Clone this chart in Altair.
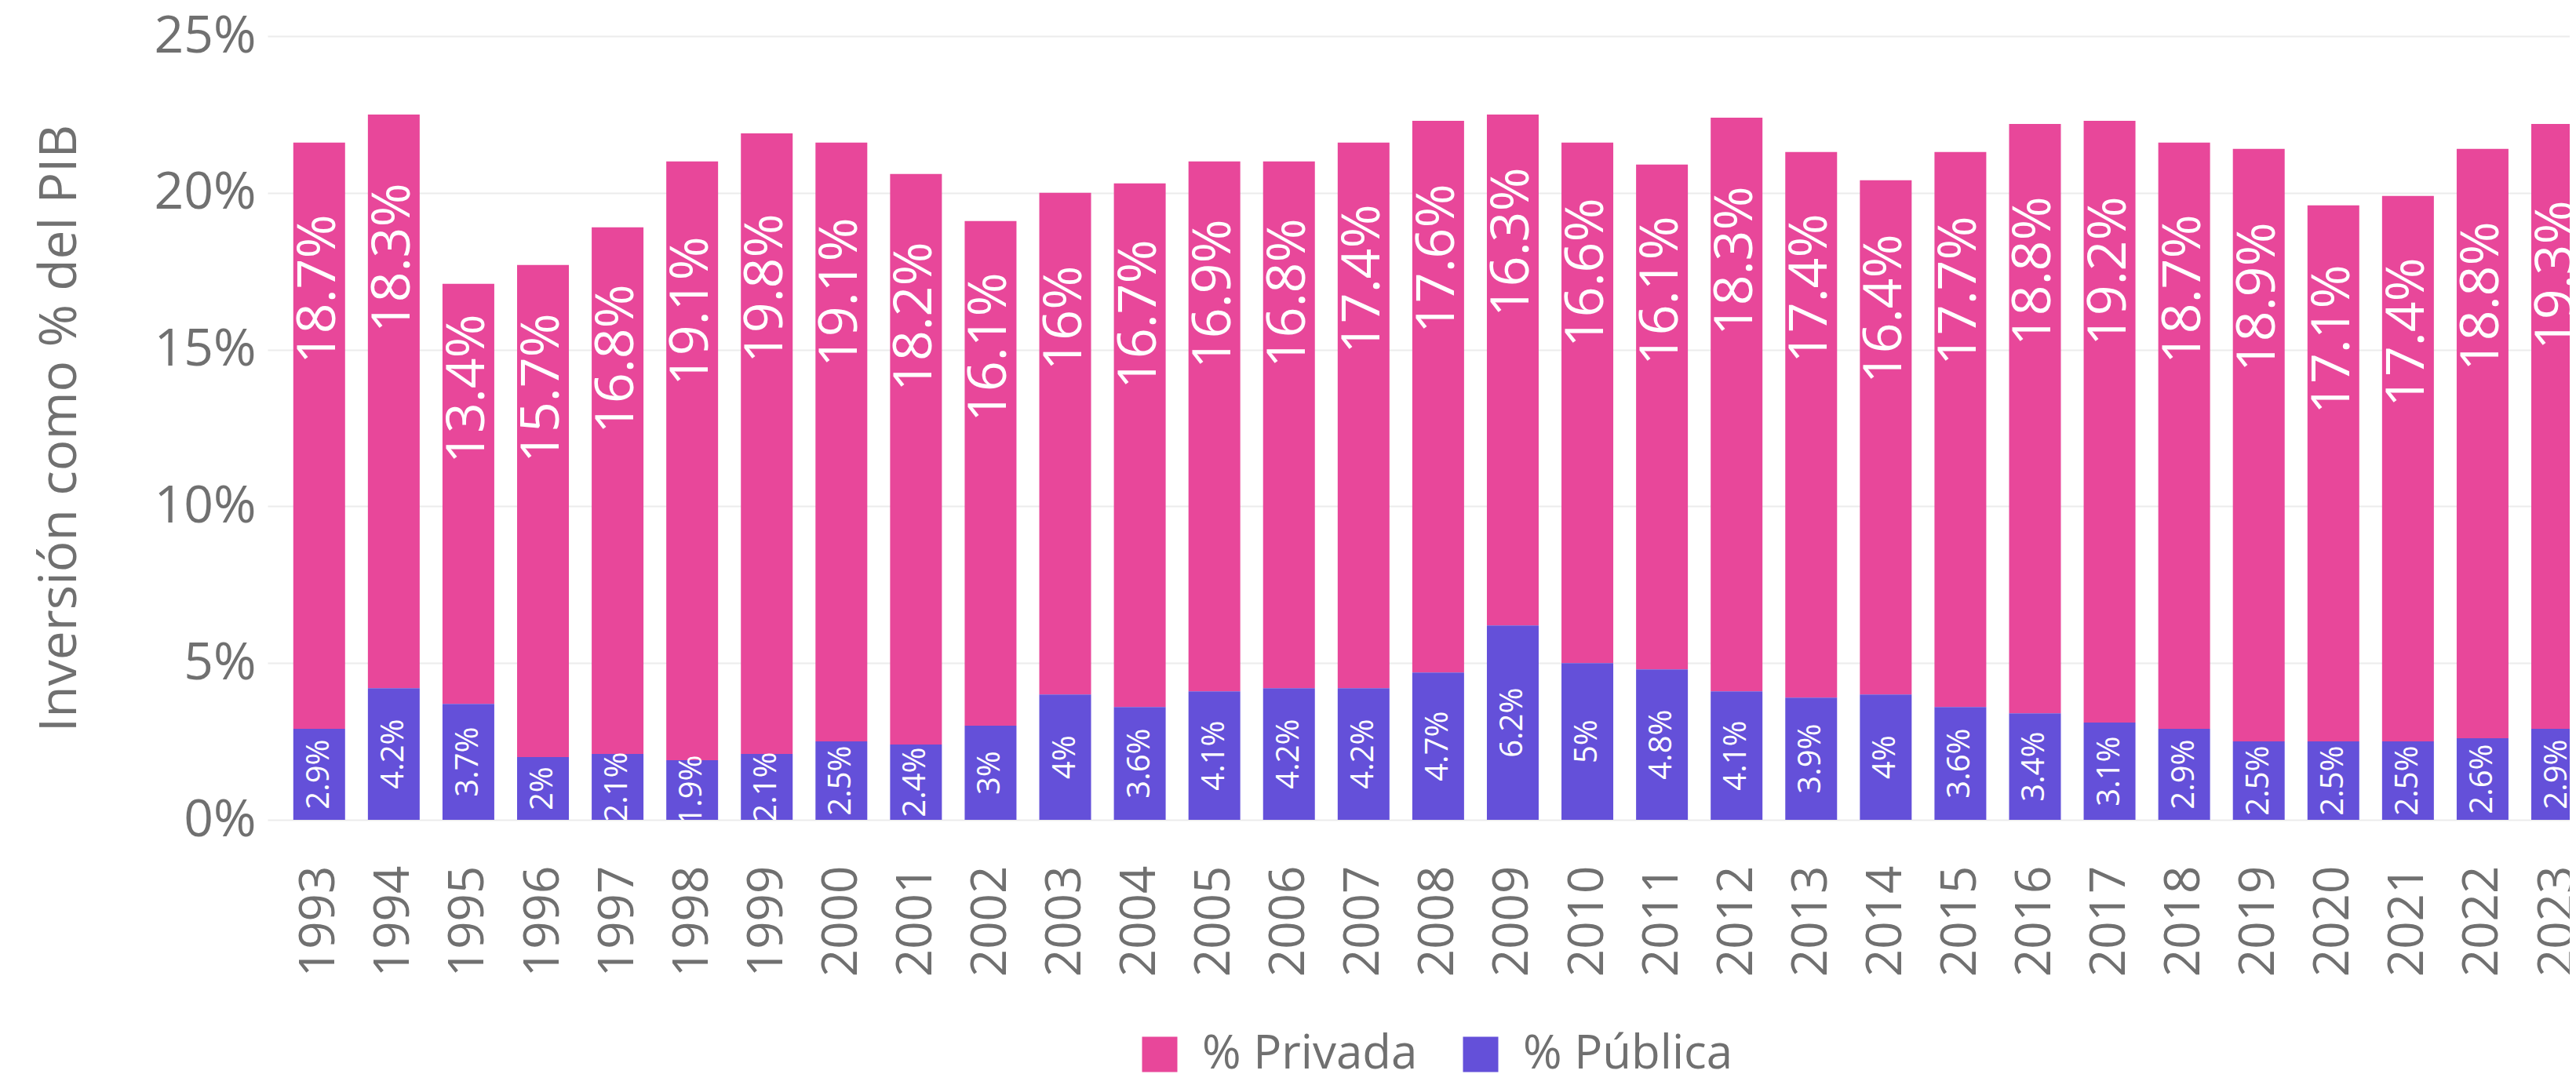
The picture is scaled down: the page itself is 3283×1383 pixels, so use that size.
import altair as alt
import pandas as pd

years = list(range(1993, 2024))
privada = [18.7, 18.3, 13.4, 15.7, 16.8, 19.1, 19.8, 19.1, 18.2, 16.1, 16.0, 16.7, 16.9, 16.8,
           17.4, 17.6, 16.3, 16.6, 16.1, 18.3, 17.4, 16.4, 17.7, 18.8, 19.2, 18.7, 18.9, 17.1,
           17.4, 18.8, 19.3]
publica = [2.9, 4.2, 3.7, 2.0, 2.1, 1.9, 2.1, 2.5, 2.4, 3.0, 4.0, 3.6, 4.1, 4.2,
           4.2, 4.7, 6.2, 5.0, 4.8, 4.1, 3.9, 4.0, 3.6, 3.4, 3.1, 2.9, 2.5, 2.5,
           2.5, 2.6, 2.9]
series = ["% Privada", "% Pública"]
colors = ["#E8479A", "#6450D9"]
y_ticks = [0, 5, 10, 15, 20, 25]

df = pd.DataFrame({"year": years, "privada": privada, "publica": publica})

GRAY = "#707070"
FONT = "Open Sans"

color_scale = alt.Scale(domain=series, range=colors)
x_enc = alt.X(
    "year:Q",
    scale=alt.Scale(domain=[1992.3606, 2023.1157], nice=False, zero=False),
    axis=alt.Axis(
        values=years, format="d", labelAngle=-90, labelAlign="right", labelBaseline="middle",
        labelFontSize=62, labelColor=GRAY, labelFont=FONT, labelPadding=58,
        ticks=False, domain=False, grid=False, labelFlush=False, labelOverlap=False,
        labelBound=False, title=None,
    ),
)
y_scale = alt.Scale(domain=[0, 25], nice=False)
y_axis = alt.Axis(
    values=y_ticks, labelExpr="datum.value + '%'", labelFontSize=66, labelColor=GRAY,
    labelFont=FONT, labelPadding=15, ticks=False, domain=False, grid=True,
    gridColor="#ECECEC", gridWidth=2, title="Inversión como % del PIB",
    titleFontSize=66, titleFont=FONT, titleFontWeight="normal", titleColor=GRAY,
    titlePadding=85,
)

base = alt.Chart(df).transform_calculate(
    total="datum.publica + datum.privada",
    priv_pos="datum.publica + 0.75 * datum.privada",
    pub_pos="datum.publica / 2",
    priv_lbl="datum.privada + '%'",
    pub_lbl="datum.publica + '%'",
    s_priv="'" + series[0] + "'",
    s_pub="'" + series[1] + "'",
)

legend = alt.Legend(
    orient="none", legendX=1107, legendY=1268, direction="horizontal", title=None,
    symbolType="square", symbolSize=2025, symbolStrokeWidth=0, symbolOpacity=1,
    labelFontSize=60, labelFont=FONT, labelColor=GRAY, labelOffset=24, columnPadding=50,
    labelLimit=1000,
)

pub_bar = base.mark_bar(orient="vertical", size=66, clip=True).encode(
    x=x_enc,
    y=alt.Y("publica:Q", scale=y_scale, axis=y_axis, stack=False),
    color=alt.Color("s_pub:N", scale=color_scale, legend=legend),
)
priv_bar = base.mark_bar(orient="vertical", size=66, clip=True).encode(
    x=x_enc,
    y=alt.Y("publica:Q", scale=y_scale, axis=y_axis, stack=False),
    y2="total:Q",
    color=alt.Color("s_priv:N", scale=color_scale, legend=legend),
)
priv_txt = base.mark_text(angle=270, align="center", baseline="middle", fontSize=68,
                          font=FONT, color="white", clip=True).encode(
    x=x_enc,
    y=alt.Y("priv_pos:Q", scale=y_scale, axis=y_axis),
    text="priv_lbl:N",
)
pub_txt = base.mark_text(angle=270, align="center", baseline="middle", fontSize=40,
                         font=FONT, color="white", clip=True).encode(
    x=x_enc,
    y=alt.Y("pub_pos:Q", scale=y_scale, axis=y_axis),
    text="pub_lbl:N",
)

chart = alt.layer(priv_bar, pub_bar, priv_txt, pub_txt).properties(
    width=2934,
    height=999,
    autosize=alt.AutoSizeParams(type="none"),
    padding={"left": 333, "top": 38, "right": 0, "bottom": 326},
    background="white",
).configure_view(stroke=None)

chart.save("out.html", embed_options={"renderer": "svg", "actions": False})
